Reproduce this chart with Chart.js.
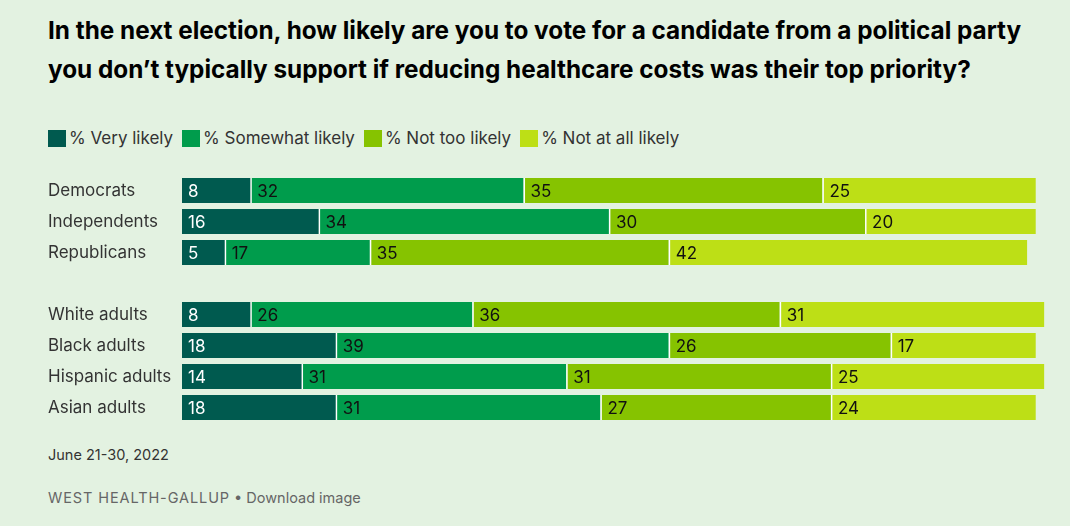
<!DOCTYPE html>
<html>
<head>
<meta charset="utf-8">
<script src="https://cdn.jsdelivr.net/npm/chart.js@4"></script>
<style>
  body { margin: 0; background: #e3f2e1; font-family: Inter, "Open Sans", sans-serif; }
  #wrap { position: relative; width: 1070px; height: 526px; overflow: hidden; }
  h1 { position: absolute; left: 48px; top: 11px; margin: 0; width: 990px;
       font-size: 24.3px; line-height: 39px; font-weight: 700; color: #000; }
  #legend { position: absolute; left: 48px; top: 128px; display: flex; font-size: 17px; color: #333; }
  #legend span.item { display: flex; align-items: center; margin-right: 9px; }
  #legend span.box { width: 18px; height: 17px; margin-right: 3px; }
  #chartBox { position: absolute; left: 48px; top: 175px; width: 1022px; height: 248px; }
  #date { position: absolute; left: 48px; top: 446px; font-size: 14.5px; color: #333; }
  #source { position: absolute; left: 48px; top: 489px; font-size: 14.5px; color: #666; }
  #source .org { letter-spacing: 0.9px; }
</style>
</head>
<body>
<div id="wrap">
  <h1>In the next election, how likely are you to vote for a candidate from a political party you don’t typically support if reducing healthcare costs was their top priority?</h1>
  <div id="legend"></div>
  <div id="chartBox"><canvas id="barChart"></canvas></div>
  <div id="date">June 21-30, 2022</div>
  <div id="source"><span class="org">WEST HEALTH-GALLUP</span> • Download image</div>
</div>
<script>
// groups (blank entry = spacer row between party and race groups)
const groups = ['Democrats', 'Independents', 'Republicans', '', 'White adults', 'Black adults', 'Hispanic adults', 'Asian adults']

const seriesNames = ['% Very likely', '% Somewhat likely', '% Not too likely', '% Not at all likely']
const seriesColors = ['#005a4f', '#009c4c', '#86c300', '#bddf16']

const veryLikely     = [8, 16, 5, null, 8, 18, 14, 18]
const somewhatLikely = [32, 34, 17, null, 26, 39, 31, 31]
const notTooLikely   = [35, 30, 35, null, 36, 26, 31, 27]
const notAtAllLikely = [25, 20, 42, null, 31, 17, 25, 24]

const seriesValues = [veryLikely, somewhatLikely, notTooLikely, notAtAllLikely]

// html legend
const legendEl = document.getElementById('legend')
seriesNames.forEach((name, i) => {
    const item = document.createElement('span')
    item.className = 'item'
    item.innerHTML = `<span class="box" style="background:${seriesColors[i]}"></span>${name}`
    legendEl.appendChild(item)
})

// value labels at the left edge of each segment
const segmentLabels = {
    id: 'segmentLabels',
    afterDatasetsDraw(chart) {
        const ctx = chart.ctx
        ctx.save()
        ctx.font = '17px Inter, "Open Sans", sans-serif'
        ctx.textBaseline = 'middle'
        ctx.textAlign = 'left'
        chart.data.datasets.forEach((ds, i) => {
            const meta = chart.getDatasetMeta(i)
            meta.data.forEach((bar, j) => {
                const v = ds.data[j]
                if (v == null) return
                ctx.fillStyle = i === 0 ? '#ffffff' : '#111111'
                ctx.fillText(v, bar.base + (i === 0 ? 6 : 7), bar.y + 1)
            })
        })
        ctx.restore()
    }
}

new Chart(document.getElementById('barChart'), {
    type: 'bar',
    data: {
        labels: groups,
        datasets: seriesValues.map((vals, i) => ({
            label: seriesNames[i],
            data: vals,
            backgroundColor: seriesColors[i],
            borderColor: '#ffffff',
            borderWidth: i === 0 ? 0 : { left: 1.5, right: 0, top: 0, bottom: 0 },
            borderSkipped: false,
            barPercentage: 0.806,
            categoryPercentage: 1
        }))
    },
    options: {
        indexAxis: 'y',
        responsive: true,
        maintainAspectRatio: false,
        animation: false,
        layout: { padding: 0 },
        plugins: {
            legend: { display: false },
            tooltip: { enabled: false }
        },
        scales: {
            x: {
                stacked: true,
                display: false,
                min: 0,
                max: 104
            },
            y: {
                stacked: true,
                grid: { display: false },
                border: { display: false },
                afterFit(scale) {
                    scale.width = 134
                    scale.paddingTop = 0
                    scale.paddingBottom = 0
                },
                ticks: {
                    crossAlign: 'far',
                    color: '#333333',
                    font: { family: 'Inter, "Open Sans", sans-serif', size: 17 }
                }
            }
        }
    },
    plugins: [segmentLabels]
})
</script>
</body>
</html>
